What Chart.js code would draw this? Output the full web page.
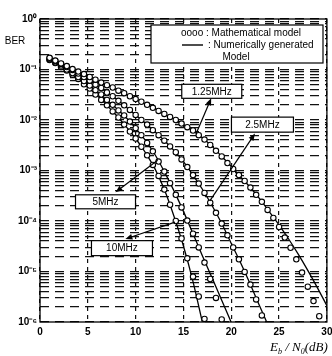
<!DOCTYPE html>
<html><head><meta charset="utf-8">
<script src="https://cdn.jsdelivr.net/npm/chart.js@4/dist/chart.umd.min.js"></script>
<style>html,body{margin:0;padding:0;background:#fff}#wrap{width:332px;height:356px;position:relative}</style>
</head><body><div id="wrap"><canvas id="c" width="332" height="356"></canvas></div>
<script>
// ---- data (Eb/N0 in dB, BER) ----
const lineEbNo = [1,2,3,4,5,6,7,8,9,10,11,12,13,14,15,16,17,18,19,20,21,22,23,24,25,26,27,28,29,30];
const line125 = [1.7e-1,1.4e-1,1.1e-1,9.1e-2,7.4e-2,6.0e-2,4.9e-2,4.0e-2,3.2e-2,2.6e-2,2.1e-2,1.7e-2,1.3e-2,1.05e-2,8.1e-3,6.2e-3,4.4e-3,3.0e-3,1.9e-3,1.2e-3,7.4e-4,4.6e-4,2.7e-4,1.5e-4,8.3e-5,4.4e-5,2.2e-5,1.05e-5,4.8e-6,2.1e-6];
const line25 = [1.66e-1,1.35e-1,1.07e-1,8.3e-2,6.3e-2,4.8e-2,3.5e-2,2.6e-2,1.8e-2,1.26e-2,8.7e-3,5.9e-3,3.9e-3,2.5e-3,1.5e-3,8.1e-4,4.2e-4,2.0e-4,8.9e-5,3.6e-5,1.45e-5,5.5e-6,2.0e-6,7.4e-7,null,null,null,null,null,null];
const line5 = [1.6e-1,1.26e-1,9.5e-2,7.1e-2,5.1e-2,3.6e-2,2.5e-2,1.7e-2,1.12e-2,6.9e-3,4.0e-3,2.1e-3,9.5e-4,4.0e-4,1.55e-4,5.6e-5,2.0e-5,7.4e-6,2.7e-6,9.8e-7,null,null,null,null,null,null,null,null,null,null];
const line10 = [1.55e-1,1.2e-1,8.9e-2,6.5e-2,4.5e-2,3.0e-2,1.95e-2,1.23e-2,7.4e-3,4.3e-3,2.3e-3,1.1e-3,4.2e-4,1.26e-4,3.2e-5,6.3e-6,9.5e-7,null,null,null,null,null,null,null,null,null,null,null,null,null];

const circleEbNo = [1.0,1.6,2.2,2.8,3.4,4.0,4.6,5.2,5.8,6.4,7.0,7.6,8.2,8.8,9.4,10.0,10.6,11.2,11.8,12.4,13.0,13.6,14.2,14.8,15.4,16.0,16.6,17.2,17.8,18.4,19.0,19.6,20.2,20.8,21.4,22.0,22.6,23.2,23.8,24.4,25.0,25.6,26.2,26.8,27.4,28.0,28.6,29.2];
const circ125 = [1.7e-1,1.5e-1,1.32e-1,1.17e-1,1.02e-1,9.1e-2,8.1e-2,7.1e-2,6.3e-2,5.5e-2,4.9e-2,4.4e-2,3.8e-2,3.4e-2,2.95e-2,2.6e-2,2.3e-2,2.0e-2,1.74e-2,1.51e-2,1.32e-2,1.15e-2,1.0e-2,8.5e-3,7.2e-3,6.2e-3,5.0e-3,4.1e-3,3.2e-3,2.45e-3,1.9e-3,1.4e-3,1.07e-3,8.1e-4,6.2e-4,4.6e-4,3.3e-4,2.4e-4,1.66e-4,1.15e-4,7.6e-5,4.7e-5,2.95e-5,1.74e-5,9.5e-6,5.0e-6,2.6e-6,1.3e-6];
const circ25 = [1.66e-1,1.48e-1,1.29e-1,1.12e-1,9.8e-2,8.3e-2,7.1e-2,6.0e-2,5.0e-2,4.3e-2,3.5e-2,2.95e-2,2.4e-2,1.95e-2,1.58e-2,1.26e-2,1.0e-2,8.1e-3,6.3e-3,5.0e-3,3.9e-3,3.0e-3,2.3e-3,1.66e-3,1.17e-3,8.1e-4,5.5e-4,3.6e-4,2.3e-4,1.45e-4,8.9e-5,5.2e-5,3.0e-5,1.74e-5,9.8e-6,5.5e-6,2.8e-6,1.35e-6];
const circ5 = [1.58e-1,1.38e-1,1.2e-1,1.0e-1,8.5e-2,7.1e-2,5.9e-2,4.8e-2,3.9e-2,3.2e-2,2.5e-2,2.0e-2,1.55e-2,1.23e-2,9.3e-3,6.9e-3,5.0e-3,3.5e-3,2.4e-3,1.5e-3,9.5e-4,5.6e-4,3.3e-4,1.86e-4,1.02e-4,5.6e-5,3.0e-5,1.5e-5,7.1e-6,3.0e-6,1.12e-6];
const circ10 = [1.55e-1,1.35e-1,1.12e-1,9.5e-2,7.9e-2,6.5e-2,5.1e-2,4.2e-2,3.2e-2,2.5e-2,1.95e-2,1.48e-2,1.12e-2,8.1e-3,5.9e-3,4.3e-3,2.95e-3,2.0e-3,1.29e-3,7.8e-4,4.2e-4,2.1e-4,1.0e-4,4.5e-5,1.82e-5,7.9e-6,3.2e-6,1.15e-6];

const seriesNames = ['1.25MHz','2.5MHz','5MHz','10MHz'];
const xTicks = [0,5,10,15,20,25,30];
const yDecades = [1,1e-1,1e-2,1e-3,1e-4,1e-5,1e-6];
const yTickLabels = ['10\u2070','10\u207B\u00B9','10\u207B\u00B2','10\u207B\u00B3','10\u207B\u2074','10\u207B\u2075','10\u207B\u2076'];
const legendTexts = ['oooo : Mathematical model', ': Numerically generated', 'Model'];
const yAxisTitle = 'BER';

// ---- annotation placement (data coords) ----
const labelBoxes = [
  {name: seriesNames[0], x: 17.96, y: 3.7e-2, w: 60, h: 14},
  {name: seriesNames[1], x: 23.26, y: 8.1e-3, w: 62, h: 15},
  {name: seriesNames[2], x: 6.85, y: 2.4e-4, w: 60, h: 14},
  {name: seriesNames[3], x: 8.57, y: 2.9e-5, w: 61, h: 15}
];
const arrows = [
  {from: [16.3, 5.2e-3], to: [17.9, 2.7e-2]},
  {from: [17.76, 2.5e-4], to: [22.48, 5.4e-3]},
  {from: [12.3, 1.6e-3], to: [7.9, 3.7e-4]},
  {from: [14.12, 9.5e-5], to: [8.93, 4.4e-5]}
];

const toPts = (xs, ys) => xs.map((x, i) => ({x, y: ys[i]})).filter(p => p.y != null && p.y !== undefined);

const FONT = '"Liberation Sans", Arial, sans-serif';

function lineDS(vals) {
  return {type: 'scatter', showLine: true, data: toPts(lineEbNo, vals), borderColor: '#000', borderWidth: 1.3,
    pointRadius: 0, cubicInterpolationMode: 'monotone', fill: false, order: 2};
}
function circDS(vals) {
  return {type: 'scatter', showLine: false, data: toPts(circleEbNo, vals), borderColor: '#000', borderWidth: 1.1,
    backgroundColor: '#fff', pointRadius: 2.7, pointStyle: 'circle', order: 1};
}

const decor = {
  id: 'decor',
  afterDatasetsDraw(chart) {
    const {ctx, chartArea: a, scales: {x, y}} = chart;
    ctx.save();
    // frame
    ctx.strokeStyle = '#000'; ctx.lineWidth = 1.3; ctx.setLineDash([]);
    ctx.strokeRect(a.left, a.top, a.right - a.left, a.bottom - a.top);
    // arrows
    ctx.lineWidth = 1.2; ctx.fillStyle = '#000';
    arrows.forEach(ar => {
      const x1 = x.getPixelForValue(ar.from[0]), y1 = y.getPixelForValue(ar.from[1]);
      const x2 = x.getPixelForValue(ar.to[0]), y2 = y.getPixelForValue(ar.to[1]);
      const ang = Math.atan2(y2 - y1, x2 - x1), L = 7, W = 2.8;
      const bx = x2 - L * Math.cos(ang), by = y2 - L * Math.sin(ang);
      ctx.beginPath(); ctx.moveTo(x1, y1); ctx.lineTo(bx, by); ctx.stroke();
      ctx.beginPath(); ctx.moveTo(x2, y2);
      ctx.lineTo(bx + W * Math.sin(ang), by - W * Math.cos(ang));
      ctx.lineTo(bx - W * Math.sin(ang), by + W * Math.cos(ang));
      ctx.closePath(); ctx.fill();
    });
    // label boxes
    ctx.font = '10px ' + FONT; ctx.textAlign = 'center'; ctx.textBaseline = 'middle';
    labelBoxes.forEach(b => {
      const cx = x.getPixelForValue(b.x), cy = y.getPixelForValue(b.y);
      ctx.fillStyle = '#fff'; ctx.fillRect(cx - b.w / 2, cy - b.h / 2, b.w, b.h);
      ctx.strokeStyle = '#000'; ctx.lineWidth = 1.2; ctx.strokeRect(cx - b.w / 2, cy - b.h / 2, b.w, b.h);
      ctx.fillStyle = '#000'; ctx.fillText(b.name, cx, cy + 0.5);
    });
    // legend box
    const lx = a.left + 111, ly = a.top + 6, lw = 172, lh = 38;
    ctx.fillStyle = '#fff'; ctx.fillRect(lx, ly, lw, lh);
    ctx.strokeStyle = '#000'; ctx.lineWidth = 1.2; ctx.strokeRect(lx, ly, lw, lh);
    ctx.fillStyle = '#000'; ctx.textAlign = 'left'; ctx.font = '10px ' + FONT;
    ctx.fillText(legendTexts[0], lx + 30, ly + 8);
    ctx.beginPath(); ctx.lineWidth = 1.4; ctx.moveTo(lx + 31, ly + 20); ctx.lineTo(lx + 52, ly + 20); ctx.stroke();
    ctx.fillText(legendTexts[1], lx + 57, ly + 20);
    ctx.textAlign = 'center';
    ctx.fillText(legendTexts[2], lx + 85, ly + 32);
    // y axis title
    ctx.font = '10px ' + FONT; ctx.textAlign = 'center';
    ctx.fillText(yAxisTitle, 15, a.top + 22);
    // x axis title: E_b / N_0 (dB)
    let px = 270; const base = 351;
    ctx.textAlign = 'left'; ctx.textBaseline = 'alphabetic';
    const seg = (t, f, dy) => { ctx.font = f; ctx.fillText(t, px, base + dy); px += ctx.measureText(t).width; };
    seg('E', 'italic 13px "Liberation Serif", serif', 0);
    seg('b', 'italic 8px "Liberation Serif", serif', 3);
    seg(' / ', 'italic 13px "Liberation Serif", serif', 0);
    seg('N', 'italic 13px "Liberation Serif", serif', 0);
    seg('0', 'italic 8px "Liberation Serif", serif', 3);
    seg('(dB)', 'italic 13px "Liberation Serif", serif', 0);
    ctx.restore();
  }
};

const yTickValues = [];
for (let n = -6; n <= -1; n++) for (let k = 1; k <= 9; k++) yTickValues.push(+(k * Math.pow(10, n)).toPrecision(6));
yTickValues.push(1);

new Chart(document.getElementById('c'), {
  type: 'scatter',
  data: {datasets: [lineDS(line125), lineDS(line25), lineDS(line5), lineDS(line10),
    circDS(circ125), circDS(circ25), circDS(circ5), circDS(circ10)]},
  options: {
    responsive: false, animation: false, devicePixelRatio: 1,
    layout: {padding: {left: 0, right: 3, top: 19, bottom: 0}},
    plugins: {legend: {display: false}, tooltip: {enabled: false}},
    scales: {
      x: {type: 'linear', min: 0, max: 30,
        afterBuildTicks: s => { s.ticks = xTicks.map(v => ({value: v})); },
        afterFit: s => { s.height = 34; s.paddingLeft = 0; s.paddingRight = 0; },
        ticks: {autoSkip: false, maxRotation: 0, padding: 4, color: '#000', font: {family: FONT, size: 10, weight: 'bold'},
          callback: v => String(v)},
        grid: {color: '#111', lineWidth: 1.2, drawTicks: false},
        border: {display: false, dash: [4, 4]}
      },
      y: {type: 'logarithmic', min: 1e-6, max: 1,
        afterBuildTicks: s => { s.ticks = yTickValues.map(v => ({value: v})); },
        afterFit: s => { s.width = 40; s.paddingTop = 0; s.paddingBottom = 0; },
        ticks: {autoSkip: false, padding: 3, color: '#000', font: {family: FONT, size: 10, weight: 'bold'},
          callback: v => { const e = Math.log10(v); return Math.abs(e - Math.round(e)) < 1e-6 ? yTickLabels[-Math.round(e)] : ''; }},
        grid: {color: '#111', lineWidth: 1.2, drawTicks: false},
        border: {display: false, dash: [9, 6]}
      }
    }
  },
  plugins: [decor]
});
</script></body></html>
